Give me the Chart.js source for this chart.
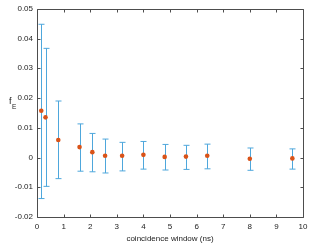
<!DOCTYPE html>
<html>
<head>
<meta charset="utf-8">
<script src="https://cdn.jsdelivr.net/npm/chart.js@4/dist/chart.umd.min.js"></script>
<style>
html,body{margin:0;padding:0;background:#fff;}
#wrap{width:315px;height:248px;}
</style>
</head>
<body>
<div id="wrap"><canvas id="c" width="315" height="248"></canvas></div>
<script>
const windows = [0.16, 0.32, 0.8, 1.6, 2.08, 2.56, 3.2, 4.0, 4.8, 5.6, 6.4, 8.0, 9.6];
const fE      = [0.0157, 0.0135, 0.0059, 0.0035, 0.0018, 0.0006, 0.0006, 0.0009, 0.0002, 0.0003, 0.0006, -0.0004, -0.0003];
const errHigh = [0.0448, 0.0367, 0.0190, 0.0113, 0.0081, 0.0062, 0.0051, 0.0054, 0.0044, 0.0041, 0.0045, 0.0032, 0.0029];
const errLow  = [-0.0138, -0.0097, -0.0071, -0.0046, -0.0048, -0.0052, -0.0045, -0.0039, -0.0042, -0.0040, -0.0038, -0.0043, -0.0039];
const xTicks = [0,1,2,3,4,5,6,7,8,9,10];
const yTicks = [0.05,0.04,0.03,0.02,0.01,0,-0.01,-0.02];
const xLabel = 'coincidence window (ns)';
const yLabelMain = 'f';
const yLabelSub = 'E';

const FONT = '"Liberation Sans", Arial, sans-serif';
const AXIS_COLOR = '#4d4d4d';

const errorBars = {
  id: 'errorBars',
  beforeDatasetsDraw(chart) {
    const {ctx, scales:{x, y}} = chart;
    ctx.save();
    ctx.strokeStyle = '#4ea7dc';
    ctx.lineWidth = 1;
    for (let i = 0; i < windows.length; i++) {
      const px = Math.round(x.getPixelForValue(windows[i])) + 0.5;
      const pt = y.getPixelForValue(errHigh[i]);
      const pb = y.getPixelForValue(errLow[i]);
      ctx.beginPath();
      ctx.moveTo(px, pt); ctx.lineTo(px, pb);
      ctx.moveTo(px - 3, pt); ctx.lineTo(px + 3, pt);
      ctx.moveTo(px - 3, pb); ctx.lineTo(px + 3, pb);
      ctx.stroke();
    }
    ctx.restore();
  }
};

const frame = {
  id: 'frame',
  afterDraw(chart) {
    const {ctx, chartArea:a, scales:{x, y}} = chart;
    ctx.save();
    ctx.strokeStyle = AXIS_COLOR;
    ctx.lineWidth = 1;
    const L = Math.round(a.left) + 0.5, R = Math.round(a.right) + 0.5;
    const T = Math.round(a.top) + 0.5, B = Math.round(a.bottom) + 0.5;
    ctx.beginPath();
    ctx.rect(L, T, R - L, B - T);
    xTicks.forEach(v => {
      const px = Math.round(x.getPixelForValue(v)) + 0.5;
      ctx.moveTo(px, B); ctx.lineTo(px, B - 3);
      ctx.moveTo(px, T); ctx.lineTo(px, T + 3);
    });
    yTicks.forEach(v => {
      const py = Math.round(y.getPixelForValue(v)) + 0.5;
      ctx.moveTo(L, py); ctx.lineTo(L + 3, py);
      ctx.moveTo(R, py); ctx.lineTo(R - 3, py);
    });
    ctx.stroke();
    ctx.fillStyle = '#222';
    ctx.textBaseline = 'alphabetic';
    ctx.textAlign = 'left';
    ctx.font = '9px ' + FONT;
    ctx.fillText(yLabelMain, 9, 104);
    ctx.font = '6.5px ' + FONT;
    ctx.fillText(yLabelSub, 12, 109);
    ctx.restore();
  }
};

new Chart(document.getElementById('c'), {
  type: 'scatter',
  data: {
    datasets: [{
      data: windows.map((w, i) => ({x: w, y: fE[i]})),
      backgroundColor: '#d95319',
      borderColor: '#d95319',
      pointRadius: 2.3,
      pointBorderWidth: 0
    }]
  },
  options: {
    responsive: false,
    animation: false,
    devicePixelRatio: 1,
    layout: {padding: {left: 0, right: 12, top: 7, bottom: 4}},
    plugins: {legend: {display: false}, tooltip: {enabled: false}},
    scales: {
      x: {
        type: 'linear', min: 0, max: 10,
        afterBuildTicks(s) { s.ticks = xTicks.map(v => ({value: v})); },
        afterFit(s) { s.height = 27; },
        grid: {display: false, drawTicks: false},
        border: {display: false},
        ticks: {color: '#222', font: {size: 8, family: FONT}, padding: 5, maxRotation: 0,
                callback: v => String(v)},
        title: {display: true, text: xLabel, color: '#222', font: {size: 8, family: FONT}, padding: {top: 0, bottom: 0}}
      },
      y: {
        type: 'linear', min: -0.02, max: 0.05,
        afterBuildTicks(s) { s.ticks = yTicks.map(v => ({value: v})); },
        afterFit(s) { s.width = 37; },
        grid: {display: false, drawTicks: false},
        border: {display: false},
        ticks: {color: '#222', font: {size: 8, family: FONT}, padding: 4,
                callback: v => String(Math.round(v * 100) / 100)}
      }
    }
  },
  plugins: [errorBars, frame]
});
</script>
</body>
</html>
